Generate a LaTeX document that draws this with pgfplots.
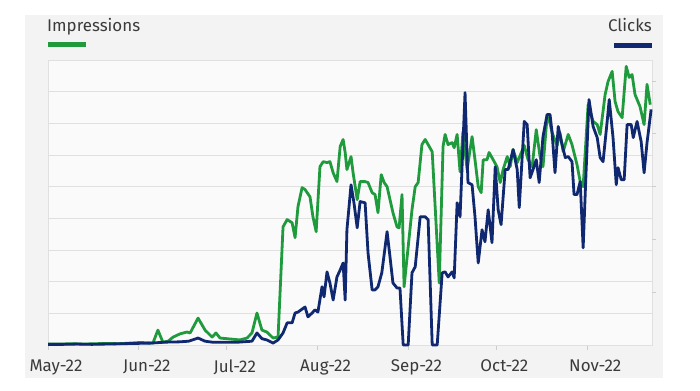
\documentclass[border=0pt]{standalone}
\usepackage{pgfplots}
\pgfplotsset{compat=1.18}
\usepackage{pgfplotstable}
\usepackage{fontspec}
\setmainfont{Fira Sans}
\definecolor{imp}{HTML}{1F9A3C}
\definecolor{clk}{HTML}{0F2870}
\definecolor{panel}{HTML}{F3F3F3}
\definecolor{plotbg}{HTML}{FAFAFA}
\definecolor{gridc}{HTML}{E0E0E0}
\definecolor{txt}{HTML}{3A3A3A}

\pgfplotstableread{
d v
0 0.03
4 0.03
8 0.04
12 0.03
16 0.04
20 0.05
24 0.04
28 0.06
31.5 0.08
35.8 0.06
37.5 0.47
39.2 0.09
41 0.12
42.7 0.25
45 0.35
47.4 0.41
48.5 0.38
51.2 0.85
53.6 0.47
56 0.25
57.3 0.38
58.7 0.22
62.1 0.19
65.5 0.16
67.9 0.22
69.6 0.38
71.3 1.01
73 0.47
74.7 0.41
76.8 0.22
78.5 0.25
80.2 3.73
81.6 3.96
83.3 3.86
84.3 3.39
85.3 4.37
86.7 4.97
87.7 4.91
89.4 4.68
90.4 4.05
91.5 3.58
92.8 5.63
93.9 5.79
95.2 5.76
96.2 5.79
97.3 5.44
98.6 5.16
99.7 6.27
100.7 6.49
101.4 6.08
102 5.54
103.4 5.95
104.1 5.44
105.5 4.59
106.5 5.16
108.2 5.16
109.2 5.13
110.6 4.81
111.6 4.75
112.6 4.18
113.7 5.38
114.7 5.13
115.7 5.00
116.7 4.59
117.7 4.18
119.1 3.73
119.8 3.70
120.8 4.75
121.5 1.84
124.2 4.27
125.3 5.00
126.3 5.13
127.6 6.33
128.7 6.49
129.7 6.33
131.1 6.10
133.5 1.96
134.8 6.27
135.5 6.65
136.5 6.33
137.9 6.39
138.6 6.23
139.6 6.65
140.6 5.47
141.6 6.74
143.0 5.54
144.7 6.58
145.7 5.85
146.8 5.00
147.8 4.81
148.5 5.85
149.8 5.85
150.5 6.08
151.9 5.85
153.2 5.63
154.3 5.13
155.3 5.54
156.7 5.95
157.7 5.63
158.7 6.17
160.1 5.76
162.5 6.30
163.8 5.85
165.2 5.63
166.6 6.80
167.9 5.95
168.9 5.63
170.3 7.22
171.3 7.00
172.0 6.71
173.7 6.30
174.7 6.70
175.8 6.11
177.5 6.65
178.8 6.33
180.5 5.70
181.6 5.16
182.6 5.00
184.3 7.59
186.0 7.06
187.4 6.96
188.4 6.65
190.1 7.91
191.1 8.32
192.5 8.64
193.5 7.69
194.5 7.37
195.9 7.18
197.3 8.80
198.3 8.45
199.3 8.54
200.3 7.91
202.0 7.53
203.4 6.96
204.4 8.23
205.5 7.59
}\impressions

\pgfplotstableread{
d v
0 0.02
5 0.02
10 0.03
15 0.02
20 0.03
25 0.04
30 0.05
35 0.06
40 0.09
45 0.10
48 0.12
51.2 0.22
53.6 0.12
56 0.09
60 0.09
65 0.09
69.6 0.12
71.3 0.38
73 0.20
74.7 0.16
76.8 0.06
78.5 0.16
80.2 0.38
81.6 0.70
83.3 0.70
84.3 1.01
85.3 1.04
87.7 1.20
88.7 0.89
90.1 1.01
91.1 1.11
92.1 1.04
93.5 1.84
94.2 1.52
95.2 2.31
96.2 1.96
97.3 1.42
98.6 2.15
99.7 2.37
100.7 2.59
101.4 1.42
102.0 3.64
103.4 5.06
104.4 4.49
105.5 3.70
106.5 4.53
108.2 4.49
109.2 2.91
110.6 1.74
111.6 1.74
112.6 1.84
113.9 2.28
115.7 3.58
116.7 2.78
117.7 1.96
119.1 1.80
120.1 1.80
121.2 0
122.9 0
124.2 2.28
125.3 2.47
127.0 4.05
128.7 4.05
129.7 3.96
131.1 0
132.8 0
134.5 2.28
135.5 2.31
136.5 2.15
137.9 2.31
138.6 2.12
139.6 4.49
140.6 4.05
142.3 7.97
143.3 5.13
144.7 5.06
145.7 4.05
146.8 2.59
148.1 3.64
149.1 3.26
150.2 4.27
151.5 3.23
152.6 5.63
153.6 4.27
154.6 3.80
156.0 5.54
157.0 5.54
158.7 6.17
160.1 5.54
160.8 4.34
162.5 7.06
163.5 6.96
164.5 5.28
165.5 5.54
166.6 5.85
167.6 5.13
168.9 6.58
170.3 7.28
171.3 7.28
172.0 6.71
173.0 5.44
174.1 6.90
175.4 6.33
176.5 5.92
177.5 5.95
178.8 5.79
179.5 4.75
180.5 4.75
181.6 5.16
182.6 3.07
183.6 5.47
184.6 7.75
186.0 6.90
187.4 6.55
188.4 5.92
189.4 5.79
190.8 7.06
191.5 7.75
192.8 6.55
193.9 5.06
194.5 5.60
195.6 5.22
196.6 5.22
197.6 6.96
199.0 6.96
199.7 6.55
201.0 7.06
202.4 6.42
203.4 5.44
204.4 6.39
205.8 7.44
}\clicks

\begin{document}
\begin{tikzpicture}[x=1bp,y=1bp]
\fill[white] (0,0) rectangle (700,390);
\fill[panel] (25,12) rectangle (663,375);
\node[anchor=base west, inner sep=0pt, text=txt, font=\fontsize{17}{19}\selectfont] at (47,359) {Impressions};
\fill[imp] (48,343) rectangle (86,348);
\node[anchor=base east, inner sep=0pt, text=txt, font=\fontsize{17}{19}\selectfont] at (652,359) {Clicks};
\fill[clk] (614,342) rectangle (652,347);

\begin{axis}[
  at={(48bp,45bp)}, anchor=south west,
  scale only axis, width=604bp, height=285bp,
  xmin=0, xmax=206.1, ymin=0, ymax=9,
  axis background/.style={fill=plotbg},
  axis line style={draw=gridc, line width=0.8bp},
  ymajorgrids, grid style={draw=gridc, line width=0.8bp},
  ytick={1,2,3,4,5,6,7,8}, yticklabels={}, ytick style={draw=none},
  xtick={0,31,61,92,123,153,184},
  xticklabels={May-22,Jun-22,Jul-22,Aug-22,Sep-22,Oct-22,Nov-22},
  xtick pos=bottom, tick align=outside, major tick length=5bp,
  xtick style={draw=gridc!80!gray, line width=0.8bp},
  x tick label style={text=txt, font=\fontsize{17}{19}\selectfont, xshift=8bp, yshift=-6bp},
  clip=false,
  line join=round,
]
\addplot[imp, line width=2.8bp] table[x=d, y=v] {\impressions};
\addplot[clk, line width=2.8bp] table[x=d, y=v] {\clicks};
\end{axis}

\begin{axis}[
  at={(48bp,45bp)}, anchor=south west,
  scale only axis, width=604bp, height=285bp,
  xmin=0, xmax=206.1, ymin=0, ymax=9,
  axis x line=none, axis y line*=right,
  axis line style={draw=none},
  ytick={1.667,3.333,5,6.667,8.333}, yticklabels={},
  tick align=outside, major tick length=4bp,
  ytick style={draw=gridc!80!gray, line width=0.8bp},
]
\end{axis}
\end{tikzpicture}
\end{document}
